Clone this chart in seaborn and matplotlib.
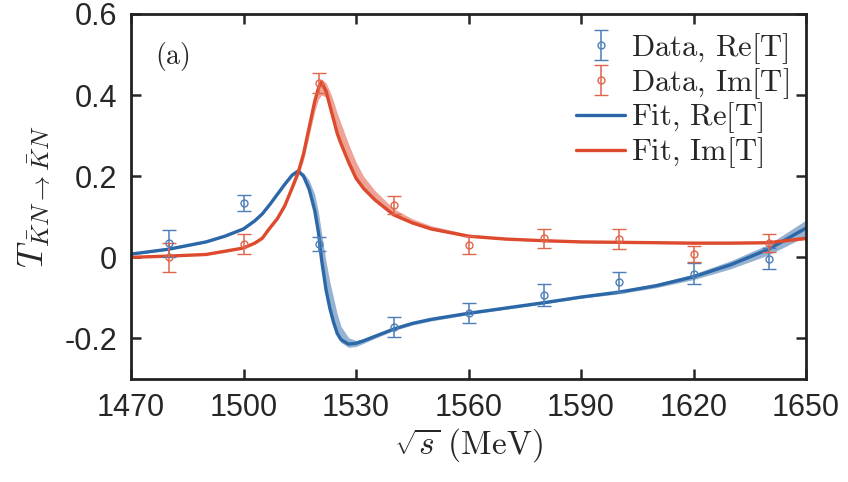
import numpy as np
import pandas as pd
import matplotlib
matplotlib.use('Agg')
import matplotlib.pyplot as plt
import seaborn as sns

# measured points
x_data = [1480, 1500, 1520, 1540, 1560, 1580, 1600, 1620, 1640]
re_data = [0.035, 0.133, 0.033, -0.172, -0.137, -0.093, -0.06, -0.04, -0.003]
re_err = [0.033, 0.02, 0.017, 0.025, 0.025, 0.027, 0.025, 0.025, 0.025]
im_data = [0.0, 0.033, 0.43, 0.13, 0.03, 0.047, 0.045, 0.008, 0.035]
im_err = [0.035, 0.025, 0.025, 0.022, 0.022, 0.024, 0.025, 0.02, 0.022]

# fit curves and their bands
x_fit = [1470, 1480, 1490, 1495, 1500, 1503, 1505, 1507, 1509, 1511,
         1513, 1514.6, 1516, 1517.5, 1519, 1520, 1520.8, 1522, 1523, 1524,
         1525, 1526, 1528, 1530, 1532, 1535, 1540, 1545, 1550, 1560,
         1570, 1580, 1590, 1600, 1610, 1620, 1630, 1640, 1650]
re_fit = [0.008, 0.02, 0.038, 0.052, 0.07, 0.09, 0.107, 0.13, 0.155, 0.18,
          0.203, 0.213, 0.2, 0.168, 0.115, 0.06, -0.005, -0.08, -0.125, -0.16,
          -0.188, -0.203, -0.214, -0.212, -0.206, -0.195, -0.177, -0.163, -0.153, -0.138,
          -0.125, -0.112, -0.098, -0.086, -0.07, -0.048, -0.018, 0.02, 0.072]
re_lo = [0.006, 0.018, 0.036, 0.05, 0.068, 0.088, 0.105, 0.128, 0.153, 0.178,
         0.2, 0.209, 0.196, 0.165, 0.112, 0.057, -0.008, -0.083, -0.128, -0.165,
         -0.194, -0.21, -0.222, -0.22, -0.212, -0.2, -0.181, -0.167, -0.157, -0.141,
         -0.128, -0.115, -0.101, -0.09, -0.075, -0.055, -0.028, 0.006, 0.052]
re_hi = [0.01, 0.022, 0.04, 0.054, 0.072, 0.092, 0.109, 0.132, 0.157, 0.182,
         0.206, 0.216, 0.208, 0.19, 0.155, 0.11, 0.06, -0.01, -0.06, -0.1,
         -0.14, -0.17, -0.198, -0.205, -0.2, -0.19, -0.173, -0.159, -0.149, -0.135,
         -0.122, -0.109, -0.095, -0.082, -0.065, -0.041, -0.008, 0.032, 0.092]
im_fit = [0.0, 0.003, 0.007, 0.015, 0.023, 0.035, 0.047, 0.072, 0.095, 0.127,
          0.172, 0.21, 0.255, 0.32, 0.385, 0.418, 0.432, 0.41, 0.375, 0.34,
          0.305, 0.28, 0.235, 0.195, 0.17, 0.142, 0.105, 0.085, 0.07, 0.052,
          0.045, 0.041, 0.038, 0.037, 0.036, 0.035, 0.035, 0.036, 0.047]
im_lo = [0.0, 0.002, 0.006, 0.012, 0.022, 0.033, 0.045, 0.069, 0.092, 0.123,
         0.167, 0.2, 0.24, 0.3, 0.36, 0.39, 0.4, 0.395, 0.37, 0.335,
         0.3, 0.275, 0.23, 0.19, 0.165, 0.138, 0.102, 0.082, 0.068, 0.05,
         0.043, 0.039, 0.036, 0.035, 0.034, 0.033, 0.033, 0.034, 0.043]
im_hi = [0.001, 0.004, 0.008, 0.016, 0.025, 0.037, 0.049, 0.075, 0.098, 0.131,
         0.177, 0.216, 0.262, 0.33, 0.395, 0.43, 0.44, 0.43, 0.41, 0.385,
         0.355, 0.33, 0.28, 0.235, 0.2, 0.165, 0.12, 0.095, 0.078, 0.057,
         0.048, 0.043, 0.04, 0.039, 0.038, 0.037, 0.037, 0.038, 0.051]

blue = '#2C67A7'
red = '#DD4A2E'

sns.set_style('ticks')
plt.rcParams['font.family'] = ['Liberation Sans', 'DejaVu Sans']
plt.rcParams['mathtext.fontset'] = 'cm'

fig = plt.figure(figsize=(8.48, 4.82), dpi=100)
ax = fig.add_axes([0.1545, 0.2137, 0.796, 0.7573])

ax.fill_between(x_fit, re_lo, re_hi, color=blue, alpha=0.5, lw=0)
ax.fill_between(x_fit, im_lo, im_hi, color=red, alpha=0.5, lw=0)

fit = pd.DataFrame({'x': x_fit, 're': re_fit, 'im': im_fit})
sns.lineplot(data=fit, x='x', y='re', color=blue, lw=2.4, ax=ax, label=r'$\mathrm{Fit,\,Re[T]}$',
             solid_joinstyle='round', solid_capstyle='round')
sns.lineplot(data=fit, x='x', y='im', color=red, lw=2.4, ax=ax, label=r'$\mathrm{Fit,\,Im[T]}$',
             solid_joinstyle='round', solid_capstyle='round')

ax.errorbar(x_data, re_data, yerr=re_err, fmt='o', ms=5, mfc='none', mec='#4C7FB8',
            ecolor='#4C7FB8', elinewidth=1.1, capsize=5, capthick=1.1, mew=1.0,
            zorder=5, label=r'$\mathrm{Data,\,Re[T]}$')
ax.errorbar(x_data, im_data, yerr=im_err, fmt='o', ms=5, mfc='none', mec='#E0654C',
            ecolor='#E0654C', elinewidth=1.1, capsize=5, capthick=1.1, mew=1.0,
            zorder=5, label=r'$\mathrm{Data,\,Im[T]}$')

handles, labels = ax.get_legend_handles_labels()
wanted = [r'$\mathrm{Data,\,Re[T]}$', r'$\mathrm{Data,\,Im[T]}$',
          r'$\mathrm{Fit,\,Re[T]}$', r'$\mathrm{Fit,\,Im[T]}$']
order = [labels.index(l) for l in wanted]
ax.legend([handles[i] for i in order], wanted, loc='upper right',
          frameon=False, fontsize=22, handlelength=1.6, handletextpad=0.2,
          labelspacing=0.0, borderaxespad=0.15)

ax.set_xlim(1470, 1650)
ax.set_ylim(-0.3, 0.6)
ax.set_xticks(range(1470, 1651, 30))
ax.set_yticks([-0.2, 0, 0.2, 0.4, 0.6])
ax.set_yticklabels(['-0.2', '0', '0.2', '0.4', '0.6'])
ax.tick_params(direction='in', length=7, width=1.8, labelsize=22, top=True, right=True, pad=10)
for s in ax.spines.values():
    s.set_linewidth(2.0)
    s.set_color('#222222')

ax.set_xlabel(r'$\sqrt{s}\ (\mathrm{MeV})$', fontsize=24, labelpad=2)
ax.set_ylabel(r'$T_{\bar{K}N\to\bar{K}N}$', fontsize=26, labelpad=8)
ax.text(0.035, 0.93, r'$\mathrm{(a)}$', transform=ax.transAxes, fontsize=20, va='top')

fig.savefig('out.png', dpi=100)
